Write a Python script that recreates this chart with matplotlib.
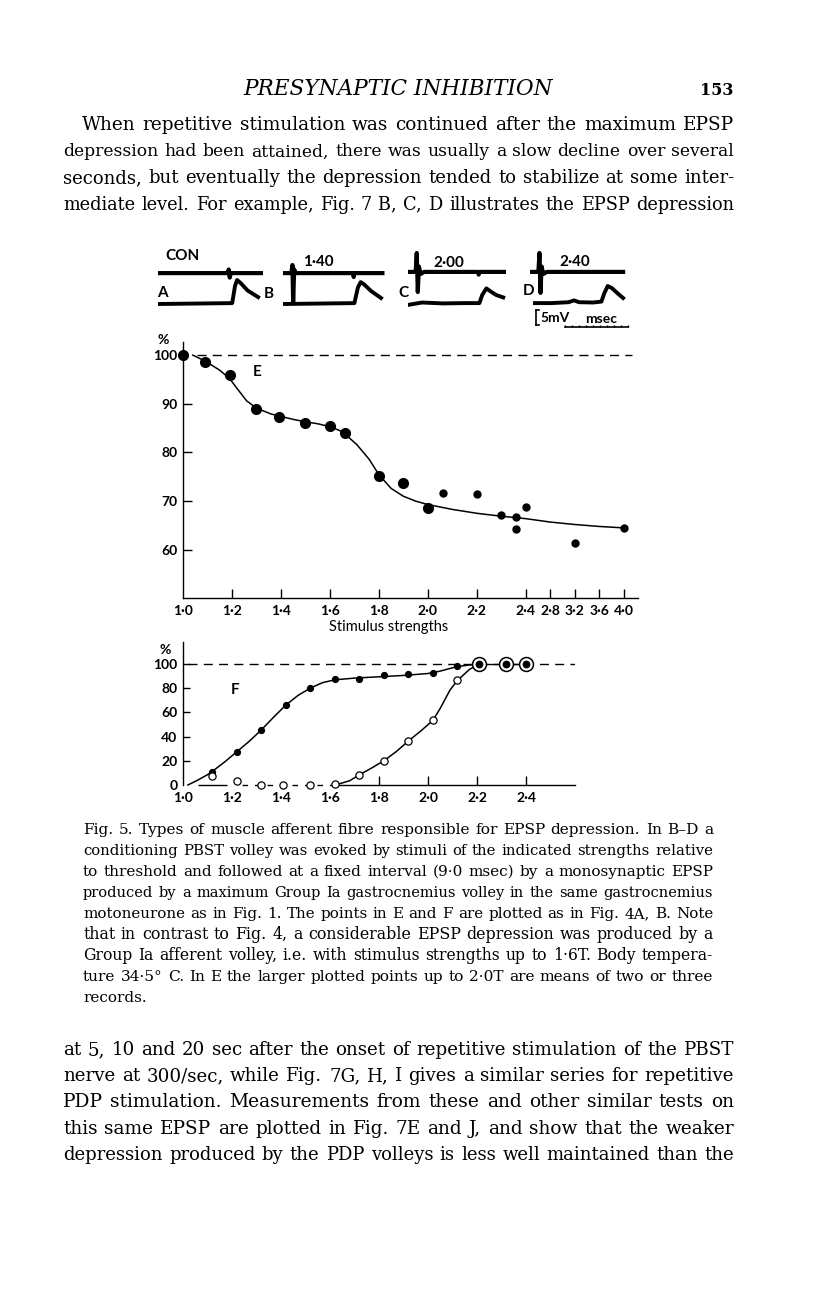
import numpy as np
import matplotlib
matplotlib.use("Agg")
import matplotlib.pyplot as plt

# page size in pixels, figure drawn at 100 dpi
W, H = 816, 1296

# ---------------- data ----------------
# E: EPSP size (% of control) against PBST stimulus strength (x threshold)
e_big_x = [1.0, 1.09, 1.19, 1.30, 1.39, 1.50, 1.60, 1.66, 1.80, 1.90, 2.00]
e_big_y = [100.0, 98.5, 95.9, 89.0, 87.3, 86.1, 85.4, 83.9, 75.2, 73.7, 68.5]
e_small_x = [2.06, 2.20, 2.30, 2.36, 2.36, 2.40, 3.20, 4.00]
e_small_y = [71.6, 71.5, 67.2, 66.8, 64.3, 68.7, 61.4, 64.5]
# hand drawn curve in E
e_curve_x = [1.04, 1.09, 1.15, 1.19, 1.22, 1.26, 1.30, 1.36, 1.40, 1.45, 1.50, 1.55,
             1.60, 1.64, 1.67, 1.71, 1.76, 1.80, 1.85, 1.90, 1.95, 2.00, 2.10, 2.20,
             2.30, 2.40, 2.80, 3.20, 3.60, 4.00]
e_curve_y = [100.0, 98.8, 96.9, 95.2, 93.2, 90.6, 89.1, 87.9, 87.4, 86.8, 86.3, 85.9,
             85.3, 84.5, 83.4, 81.6, 78.6, 75.4, 72.6, 71.0, 70.0, 69.3, 68.3, 67.5,
             66.9, 66.4, 65.7, 65.2, 64.8, 64.5]
e_xticks = [1.0, 1.2, 1.4, 1.6, 1.8, 2.0, 2.2, 2.4, 2.8, 3.2, 3.6, 4.0]
e_xlabels = ["1·0", "1·2", "1·4", "1·6", "1·8", "2·0", "2·2", "2·4", "2·8", "3·2", "3·6", "4·0"]
e_yticks = [60, 70, 80, 90, 100]

# F: PBST volley size (% of max); filled = first component, open = second
f_fill_x = [1.12, 1.22, 1.32, 1.42, 1.52, 1.62, 1.72, 1.82, 1.92, 2.02, 2.12]
f_fill_y = [11.1, 27.5, 45.3, 66.4, 80.3, 87.1, 87.4, 91.0, 91.2, 92.6, 98.4]
f_open_x = [1.12, 1.22, 1.32, 1.41, 1.52, 1.62, 1.72, 1.82, 1.92, 2.02, 2.12]
f_open_y = [7.1, 3.0, 0.0, 0.0, 0.0, 1.0, 8.4, 19.9, 36.3, 53.3, 86.3]
f_max_x = [2.21, 2.32, 2.40]
f_max_y = [100, 100, 100]
f_fill_curve_x = [1.02, 1.06, 1.10, 1.12, 1.17, 1.22, 1.27, 1.32, 1.37, 1.42, 1.47, 1.52,
                  1.57, 1.62, 1.70, 1.80, 1.90, 2.00, 2.05, 2.12, 2.21]
f_fill_curve_y = [0.0, 4.0, 8.5, 11.3, 19.0, 27.5, 36.0, 45.5, 56.0, 66.0, 74.0, 80.0,
                  84.5, 86.8, 88.2, 89.3, 90.4, 92.0, 94.0, 97.8, 100.0]
f_open_curve_x = [1.63, 1.68, 1.72, 1.77, 1.82, 1.87, 1.92, 1.97, 2.02, 2.05, 2.09,
                  2.12, 2.17, 2.21]
f_open_curve_y = [0.5, 3.5, 8.4, 14.0, 20.0, 27.5, 36.3, 44.5, 53.3, 63.3, 78.4,
                  86.3, 95.5, 100.0]
f_xticks = [1.0, 1.2, 1.4, 1.6, 1.8, 2.0, 2.2, 2.4]
f_xlabels = ["1·0", "1·2", "1·4", "1·6", "1·8", "2·0", "2·2", "2·4"]
f_yticks = [0, 20, 40, 60, 80, 100]

# A-D: oscilloscope records (time in msec, potential in mV-ish units)
# top beam = PBST volley, bottom beam = EPSP
a_top_t = [0, 10.0, 10.1, 10.25, 10.4, 15.2]
a_top_v = [10.3, 10.3, 11.5, 8.8, 10.3, 10.3]
a_bot_t = [0, 10.6, 11.0, 11.3, 11.8, 12.8, 14.3]
a_bot_v = [0, 0.3, 6.0, 8.0, 7.0, 4.5, 2.3]
b_top_t = [0, 1.2, 1.35, 1.45, 1.6, 1.8, 10.0, 10.1, 10.2, 14.2]
b_top_v = [10.3, 10.3, 13.0, 0.7, 11.5, 10.3, 10.3, 9.0, 10.3, 10.3]
b_bot_t = [0, 10.2, 10.7, 11.1, 11.6, 12.6, 14.0]
b_bot_v = [0, 0.3, 5.5, 7.3, 6.5, 4.3, 2.0]
c_top_t = [0, 1.1, 1.25, 1.4, 1.55, 1.8, 2.3, 10.0, 10.1, 10.2, 13.7]
c_top_v = [10.7, 10.7, 17.0, 4.0, 12.5, 10.0, 10.7, 10.7, 9.8, 10.7, 10.7]
c_bot_t = [0, 2.0, 5.0, 8.0, 10.2, 10.6, 11.2, 11.8, 12.6, 13.6]
c_bot_v = [-0.3, 0.5, 0.2, 0.3, 0.3, 3.0, 5.2, 4.2, 3.0, 2.2]
d_top_t = [0, 1.2, 1.35, 1.5, 1.65, 1.9, 2.4, 13.3]
d_top_v = [10.7, 10.7, 17.0, 3.7, 12.5, 10.0, 10.7, 10.7]
d_bot_t = [0.7, 3.0, 5.5, 6.3, 7.0, 9.0, 10.2, 10.6, 11.1, 11.7, 12.4, 13.3]
d_bot_v = [0.3, 0.3, 0.6, 1.2, 0.6, 0.5, 0.8, 3.5, 6.0, 5.3, 3.8, 2.0]
ruler_ms = np.arange(5, 15)   # 1 msec time marks
mv_bar = 5                    # calibration, mV

# page text
heading = "PRESYNAPTIC INHIBITION"
page_no = "153"
top_par = [
    "When repetitive stimulation was continued after the maximum EPSP",
    "depression had been attained, there was usually a slow decline over several",
    "seconds, but eventually the depression tended to stabilize at some inter-",
    "mediate level. For example, Fig. 7\u00a0B, C, D illustrates the EPSP depression",
]
caption = [
    "Fig. 5. Types of muscle afferent fibre responsible for EPSP depression. In B–D a",
    "conditioning PBST volley was evoked by stimuli of the indicated strengths relative",
    "to threshold and followed at a fixed interval (9·0 msec) by a monosynaptic EPSP",
    "produced by a maximum Group Ia gastrocnemius volley in the same gastrocnemius",
    "motoneurone as in Fig. 1. The points in E and F are plotted as in Fig. 4A, B. Note",
    "that in contrast to Fig. 4, a considerable EPSP depression was produced by a",
    "Group Ia afferent volley, i.e. with stimulus strengths up to 1·6T. Body tempera-",
    "ture 34·5° C. In E the larger plotted points up to 2·0T are means of two or three",
    "records.",
]
bottom_par = [
    "at 5, 10 and 20 sec after the onset of repetitive stimulation of the PBST",
    "nerve at 300/sec, while Fig. 7G, H, I gives a similar series for repetitive",
    "PDP stimulation. Measurements from these and other similar tests on",
    "this same EPSP are plotted in Fig. 7E and J, and show that the weaker",
    "depression produced by the PDP volleys is less well maintained than the",
]

# ---------------- drawing ----------------
plt.rcParams['font.family'] = ['Lato', 'DejaVu Sans']
plt.rcParams['font.weight'] = 'bold'
SERIF = 'DejaVu Serif'

fig = plt.figure(figsize=(W / 100, H / 100), dpi=100)
page = fig.add_axes([0, 0, 1, 1])
page.set_xlim(0, W)
page.set_ylim(H, 0)
page.axis('off')
renderer = fig.canvas.get_renderer()


def px_axes(left, top, right, bottom):
    # axes placed by page pixels
    return fig.add_axes([left / W, 1 - bottom / H, (right - left) / W, (bottom - top) / H])


def text_width(s, size):
    t = page.text(0, 0, s, fontsize=size, family=SERIF, weight='normal')
    w = t.get_window_extent(renderer).width
    t.remove()
    return w


def line_sizes(lines, widths, ref=10.0, spread=0.05):
    # size at which each line fits with plain spaces, kept close to the paragraph median
    s = np.array([ref * w / text_width(l, ref) for l, w in zip(lines, widths)]) * 0.99
    med = np.median(s)
    return np.clip(s, med * (1 - spread), med * (1 + spread))


def justify(line, x0, x1, y, size, last=False):
    words = line.split(' ')
    items = [page.text(0, y, w, fontsize=size, family=SERIF, weight='normal', va='baseline')
             for w in words]
    widths = [t.get_window_extent(renderer).width for t in items]
    if last or len(items) == 1:
        gap = 0.3 * size * 100 / 72
    else:
        gap = (x1 - x0 - sum(widths)) / (len(items) - 1)
    x = x0
    for t, w in zip(items, widths):
        t.set_x(x)
        x += w + gap


# heading, fitted to its width on the page
h = page.text(398, 95, heading, family=SERIF, style='italic', weight='normal',
              fontsize=12, ha='center', va='baseline')
hw = h.get_window_extent(renderer).width
h.set_fontsize(12 * 310 / hw)
page.text(733, 95, page_no, family=SERIF, weight='bold', fontsize=11.5, ha='right', va='baseline')

top_x0 = [82, 63, 63, 63]
s_top = line_sizes(top_par, [734 - x for x in top_x0])
s_cap = line_sizes(caption[:-1], [713 - 83] * (len(caption) - 1))
s_bot = line_sizes(bottom_par, [734 - 63] * len(bottom_par))
for i, line in enumerate(top_par):
    justify(line, top_x0[i], 734, 130 + 26.5 * i, s_top[i])
for i, line in enumerate(caption):
    last = i == len(caption) - 1
    justify(line, 83, 713, 834 + 21 * i, np.median(s_cap) if last else s_cap[i], last=last)
for i, line in enumerate(bottom_par):
    justify(line, 63, 734, 1055 + 26.2 * i, s_bot[i])

# ---- records A-D ----
traces = [(158, a_top_t, a_top_v, a_bot_t, a_bot_v),
          (283, b_top_t, b_top_v, b_bot_t, b_bot_v),
          (408, c_top_t, c_top_v, c_bot_t, c_bot_v),
          (530, d_top_t, d_top_v, d_bot_t, d_bot_v)]
for left, tt, tv, bt, bv in traces:
    ax = px_axes(left, 248, left + 105, 332)
    ax.set_xlim(0, 15)
    ax.set_ylim(-9.33, 18.67)
    ax.axis('off')
    ax.plot(tt, tv, color='k', lw=3.0, solid_joinstyle='round')
    ax.plot(bt, bv, color='k', lw=2.8, solid_joinstyle='round')
    last_ax = ax
# calibrations in D
last_ax.plot([0.85, 0.85], [-2, -2 - mv_bar], color='k', lw=1.2)
last_ax.plot([0.85, 1.3], [-2, -2], color='k', lw=1.2)
last_ax.plot([0.85, 1.3], [-2 - mv_bar, -2 - mv_bar], color='k', lw=1.2)
last_ax.plot([ruler_ms[0], ruler_ms[-1]], [-7.7, -7.7], color='k', lw=1.2)
last_ax.vlines(ruler_ms, -7.7, -7.0, color='k', lw=1.0)

page.text(182, 256, "CON", fontsize=11, ha='center', va='center')
page.text(157, 293, "A", fontsize=11, ha='left', va='center')
page.text(264, 294, "B", fontsize=11, ha='left', va='center')
page.text(398, 293, "C", fontsize=11, ha='left', va='center')
page.text(523, 291, "D", fontsize=11, ha='left', va='center')
page.text(318, 262, "1·40", fontsize=11, ha='center', va='center')
page.text(449, 263, "2·00", fontsize=11, ha='center', va='center')
page.text(575, 262, "2·40", fontsize=11, ha='center', va='center')
page.text(540, 318, "5mV", fontsize=10, ha='left', va='center')
page.text(601, 319, "msec", fontsize=10, ha='center', va='center')


def style_axes(ax, xlen, ylen):
    ax.spines['top'].set_visible(False)
    ax.spines['right'].set_visible(False)
    ax.spines['left'].set_linewidth(1.0)
    ax.spines['bottom'].set_linewidth(1.0)
    ax.set_facecolor('none')
    ax.tick_params(axis='x', direction='in', length=xlen, width=1.0, pad=5, labelsize=10)
    ax.tick_params(axis='y', direction='in', length=ylen, width=1.0, pad=4, labelsize=10)


# ---- E ----
def fwd(x):
    x = np.asarray(x, dtype=float)
    return np.where(x <= 2.4, x, 2.4 + (x - 2.4) / 4)


def inv(p):
    p = np.asarray(p, dtype=float)
    return np.where(p <= 2.4, p, 2.4 + (p - 2.4) * 4)


axE = px_axes(183, 342, 638, 598)
axE.set_xscale('function', functions=(fwd, inv))
axE.set_xlim(1.0, 4.23)
axE.set_ylim(50.1, 102.7)
style_axes(axE, 6.5, 6.5)
axE.set_xticks(e_xticks, e_xlabels)
axE.minorticks_off()
axE.set_yticks(e_yticks)
axE.xaxis.get_major_ticks()[0].tick1line.set_visible(False)
axE.yaxis.get_major_ticks()[-1].tick1line.set_visible(False)
axE.axhline(100, xmin=0.031, xmax=0.987, color='k', lw=1.0, dashes=(6.5, 4.5))
axE.plot(e_curve_x, e_curve_y, color='k', lw=1.1)
axE.plot(e_big_x, e_big_y, 'o', color='k', ms=7, clip_on=False, zorder=5)
axE.plot(e_small_x, e_small_y, 'o', color='k', ms=5, clip_on=False, zorder=5)
axE.set_xlabel("Stimulus strengths", fontsize=10.5)
axE.xaxis.set_label_coords(0.453, -0.085)
page.text(257, 372, "E", fontsize=11, ha='center', va='center')
page.text(163, 340, "%", fontsize=10, ha='center', va='center')

# ---- F ----
axF = px_axes(183, 642, 575, 785)
axF.set_xlim(1.0, 2.6)
axF.set_ylim(0, 118)
style_axes(axF, 6.3, 5)
axF.spines['bottom'].set_bounds(1.63, 2.6)
axF.set_xticks(f_xticks, f_xlabels)
axF.set_yticks(f_yticks)
for tk in axF.xaxis.get_major_ticks()[:4]:
    tk.tick1line.set_visible(False)
axF.yaxis.get_major_ticks()[0].tick1line.set_visible(False)
axF.axhline(100, xmin=0.013, xmax=1.0, color='k', lw=1.0, dashes=(6.5, 4.5))
# zero level of the open points stands in for the axis on the left
axF.hlines(0, 1.06, 1.18, color='k', lw=1.0, clip_on=False)
axF.hlines(0, 1.24, 1.61, color='k', lw=1.0, linestyles=(0, (4, 5)), clip_on=False)
axF.plot(f_fill_curve_x, f_fill_curve_y, color='k', lw=1.1, clip_on=False)
axF.plot(f_open_curve_x, f_open_curve_y, color='k', lw=1.1, clip_on=False)
axF.plot(f_max_x, f_max_y, color='k', lw=1.0)
axF.plot(f_fill_x, f_fill_y, 'o', color='k', ms=4.2, clip_on=False, zorder=5)
axF.plot(f_open_x, f_open_y, 'o', mfc='white', mec='k', mew=0.9, ms=5.2, clip_on=False, zorder=5)
axF.plot(f_max_x, f_max_y, 'o', mfc='white', mec='k', mew=1.1, ms=10, clip_on=False, zorder=6)
axF.plot(f_max_x, f_max_y, 'o', color='k', ms=4.6, clip_on=False, zorder=7)
page.text(235, 690, "F", fontsize=11, ha='center', va='center')
page.text(165, 650, "%", fontsize=10, ha='center', va='center')

fig.savefig("out.png", dpi=100, facecolor='white')
